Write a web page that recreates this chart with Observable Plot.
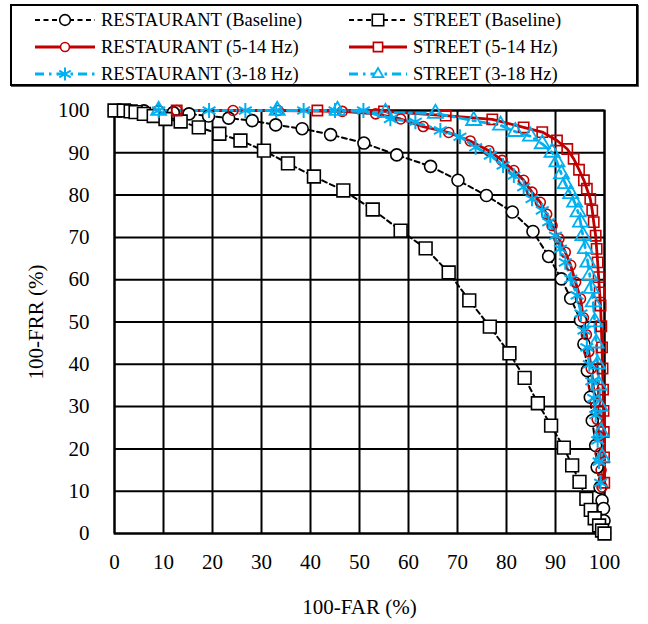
<!DOCTYPE html>
<html>
<head>
<meta charset="utf-8">
<script src="https://cdn.jsdelivr.net/npm/d3@7"></script>
<script src="https://cdn.jsdelivr.net/npm/@observablehq/plot@0.6"></script>
<style>
  html, body { margin: 0; padding: 0; background: #fff; }
  #wrap { position: relative; width: 648px; height: 624px; font-family: "Liberation Serif", "Times New Roman", Times, "DejaVu Serif", serif; }
  #legend { position: absolute; left: 10px; top: 4px; width: 624px; height: 78px; border: 2px solid #000; box-shadow: 1px 1px 0 #555; background: #fff; }
  .item { position: absolute; height: 24px; display: flex; align-items: center; font-size: 18.5px; white-space: nowrap; color: #000; font-family: "Liberation Serif", "Times New Roman", Times, "DejaVu Serif", serif; }
  .item svg { display: block; margin-right: 5px; }
  #chart { position: absolute; left: 0; top: 90px; }
  #chart svg { display: block; }
</style>
</head>
<body>
<div id="wrap">
  <div id="legend"></div>
  <div id="chart"></div>
</div>
<script>
// ---- Data ----
const seriesNames = [
  "RESTAURANT (Baseline)", "STREET (Baseline)",
  "RESTAURANT (5-14 Hz)", "STREET (5-14 Hz)",
  "RESTAURANT (3-18 Hz)", "STREET (3-18 Hz)"
];

const restBaseX = [0, 3, 6, 9, 12, 15.2, 19.2, 23.3, 28.1, 32.9, 38.3, 44.1, 50.9, 57.6, 64.5, 70.1, 75.9, 81.2, 85.4, 88.6, 91.2, 93.1, 95.1, 95.8, 96.5, 97.1, 97.5, 98.2, 98.5, 99.1, 99.5, 99.8, 99.9, 100];
const restBaseY = [100, 100, 99.9, 99.7, 99.5, 99.2, 98.7, 98.2, 97.6, 96.6, 95.7, 94.3, 92.3, 89.5, 86.8, 83.5, 79.9, 76, 71.4, 65.5, 60.2, 55.6, 50.4, 44.8, 38.5, 32.2, 26.7, 20.8, 15.7, 10.9, 7.8, 5.9, 3, 0];

const streetBaseX = [0, 1.9, 3.3, 4.3, 6, 8, 10.4, 13.5, 17.2, 21.4, 25.7, 30.5, 35.4, 40.7, 46.7, 52.7, 58.4, 63.5, 68.2, 72.4, 76.6, 80.6, 83.7, 86.4, 89.1, 91.7, 93.4, 94.9, 96.3, 97.2, 98, 98.9, 99.5, 100];
const streetBaseY = [100, 100, 99.8, 99.6, 99.2, 98.7, 98, 97.4, 96, 94.5, 92.9, 90.5, 87.5, 84.4, 81.1, 76.6, 71.6, 67.4, 61.7, 55.1, 48.9, 42.6, 36.8, 30.8, 25.5, 20.3, 16.1, 12.2, 8.2, 5.6, 3.6, 1.9, 0.7, 0];

const rest514X = [12.7, 24.2, 33.4, 46.5, 53.3, 58.4, 63, 68.2, 72.6, 76.4, 79.1, 81.5, 83.5, 85.2, 86.9, 88.2, 89.3, 90.7, 92, 93.1, 94.1, 95.1, 95.7, 96.3, 96.8, 97.3, 97.7, 98.1, 98.5, 98.8, 99.1, 99.3, 99.5];
const rest514Y = [100, 100, 100, 99.8, 99.2, 98, 96.2, 94.8, 92.8, 90.5, 88.2, 85.8, 83.5, 80.7, 78.3, 75.5, 72.8, 69.7, 66.5, 63.4, 59.4, 55.5, 51, 47, 43, 39, 35, 31, 27, 23, 19, 15, 11];

const street514X = [12.7, 41.4, 55, 67.6, 77.1, 83.5, 87.3, 90.3, 92.4, 93.7, 94.8, 95.8, 96.4, 97.1, 97.5, 97.8, 98.2, 98.4, 98.6, 98.8, 99, 99.2, 99.35, 99.5, 99.6, 99.7, 99.8, 99.85, 99.9, 99.95];
const street514Y = [100, 100, 99.8, 98.8, 97.9, 96, 94.9, 92.9, 90.9, 88.6, 86, 83.5, 81.5, 79.1, 76.4, 73.6, 70.4, 67.3, 64.1, 60.6, 57, 53.9, 49, 44, 39, 34, 29, 24, 18, 12];

const rest318X = [9, 19.3, 26.7, 33, 38.6, 45, 50.8, 56.3, 61.4, 66.5, 70.5, 73.7, 76.7, 79.3, 81.5, 83.5, 85.2, 87.3, 88.6, 90, 91, 92, 93.1, 94.4, 95.2, 95.8, 96.4, 96.9, 97.4, 97.8, 98.2, 98.6, 98.9, 99.2];
const rest318Y = [100, 100, 100, 100, 100, 100, 100, 98, 97.3, 95.3, 93.8, 91.3, 89.4, 87, 84.6, 81.9, 79.1, 76.4, 73.6, 70.4, 67.3, 64.1, 60.2, 56.3, 52, 48, 44, 40, 36, 32, 28, 22, 17, 12];

const street318X = [9, 33.2, 45.5, 55.3, 65.5, 73.3, 78.8, 81.8, 84.9, 87.3, 89.3, 90.3, 91.2, 92, 93.1, 93.9, 94.6, 95.1, 95.6, 96.1, 96.6, 97, 97.3, 97.7, 98, 98.3, 98.6, 98.9, 99.1, 99.3, 99.5];
const street318Y = [100, 100, 100, 99.5, 99.3, 97.6, 96.5, 95, 93.9, 92.1, 90.1, 87.8, 85, 82.7, 80.3, 78.3, 76, 73.6, 70.4, 67.3, 64.1, 61, 57.9, 54.7, 50, 45, 40, 35, 30, 24, 18];

const axisTicks = [0, 10, 20, 30, 40, 50, 60, 70, 80, 90, 100];
const xLabel = "100-FAR (%)";
const yLabel = "100-FRR (%)";

// ---- Styles ----
const BLACK = "#000000", RED = "#C00000", BLUE = "#00B0F0";
const FONT = "'Liberation Serif', 'Times New Roman', Times, 'DejaVu Serif', serif";
const styles = [
  {name: seriesNames[0], xs: restBaseX,   ys: restBaseY,   stroke: BLACK, width: 2,   dash: "5,3.5",      symbol: "circle",   r: 6,   fill: "white", sw: 1.6},
  {name: seriesNames[1], xs: streetBaseX, ys: streetBaseY, stroke: BLACK, width: 2,   dash: "5,3.5",      symbol: "square",   r: 7.2, fill: "white", sw: 1.6},
  {name: seriesNames[2], xs: rest514X,    ys: rest514Y,    stroke: RED,   width: 2.8, dash: null,         symbol: "circle",   r: 5,   fill: "none",  sw: 1.6},
  {name: seriesNames[3], xs: street514X,  ys: street514Y,  stroke: RED,   width: 2.8, dash: null,         symbol: "square",   r: 5.8, fill: "none",  sw: 1.6},
  {name: seriesNames[4], xs: rest318X,    ys: rest318Y,    stroke: BLUE,  width: 2.8, dash: "9,5,2.5,5",  symbol: "asterisk", r: 7,   fill: "none",  sw: 2},
  {name: seriesNames[5], xs: street318X,  ys: street318Y,  stroke: BLUE,  width: 2.8, dash: "9,5,2.5,5",  symbol: "triangle", r: 5.6, fill: "none",  sw: 1.8}
];

// ---- Chart ----
const marks = [
  Plot.gridX(axisTicks, {stroke: BLACK, strokeOpacity: 1, strokeWidth: 2}),
  Plot.gridY(axisTicks, {stroke: BLACK, strokeOpacity: 1, strokeWidth: 2}),
  Plot.frame({stroke: BLACK, strokeWidth: 2})
];
for (const s of styles) {
  const rows = s.xs.map((x, i) => ({x, y: s.ys[i]}));
  marks.push(Plot.line(rows, {x: "x", y: "y", stroke: s.stroke, strokeWidth: s.width, strokeDasharray: s.dash || undefined}));
}
for (const s of styles) {
  const rows = s.xs.map((x, i) => ({x, y: s.ys[i]}));
  marks.push(Plot.dot(rows, {x: "x", y: "y", symbol: () => s.symbol, r: s.r, stroke: s.stroke, fill: s.fill, strokeWidth: s.sw}));
}

const chart = Plot.plot({
  width: 648,
  height: 534,
  marginLeft: 114,
  marginRight: 44,
  marginTop: 20,
  marginBottom: 91,
  style: {fontFamily: FONT, fontSize: "21px", color: "#000", background: "transparent", overflow: "visible"},
  x: {domain: [0, 100], ticks: axisTicks, tickFormat: d => String(d), label: xLabel, labelAnchor: "center", labelArrow: "none", labelOffset: 80, tickSize: 0, tickPadding: 21},
  y: {domain: [0, 100], ticks: axisTicks, tickFormat: d => String(d), label: yLabel, labelAnchor: "center", labelArrow: "none", labelOffset: 86, tickSize: 0, tickPadding: 25},
  symbol: {type: "identity"},
  marks
});
chart.querySelectorAll("text").forEach(t => t.setAttribute("font-family", FONT));
document.getElementById("chart").appendChild(chart);

// ---- Legend (HTML with small swatches) ----
const legend = document.getElementById("legend");
const rowsY = [2, 29, 56];
const colX = [[22, 88], [336, 401]];
styles.forEach((s, i) => {
  const col = i % 2, row = Math.floor(i / 2);
  const item = document.createElement("div");
  item.className = "item";
  item.style.left = colX[col][0] + "px";
  item.style.top = rowsY[row] + "px";
  const w = col === 0 ? 62 : 60;
  const svg = d3.create("svg").attr("width", w).attr("height", 24);
  svg.append("line").attr("x1", 1).attr("x2", w - 1).attr("y1", 12).attr("y2", 12)
    .attr("stroke", s.stroke).attr("stroke-width", s.width)
    .attr("stroke-dasharray", s.dash ? s.dash : null);
  const size = Math.PI * s.r * s.r * 0.8;
  const sym = {circle: d3.symbolCircle, square: d3.symbolSquare, asterisk: d3.symbolAsterisk, triangle: d3.symbolTriangle2}[s.symbol];
  svg.append("path").attr("d", d3.symbol(sym, size)()).attr("transform", `translate(${w / 2},12)`)
    .attr("fill", s.fill === "none" ? "white" : s.fill).attr("stroke", s.stroke).attr("stroke-width", s.sw);
  item.appendChild(svg.node());
  const span = document.createElement("span");
  span.textContent = s.name;
  item.appendChild(span);
  legend.appendChild(item);
});
</script>
</body>
</html>
